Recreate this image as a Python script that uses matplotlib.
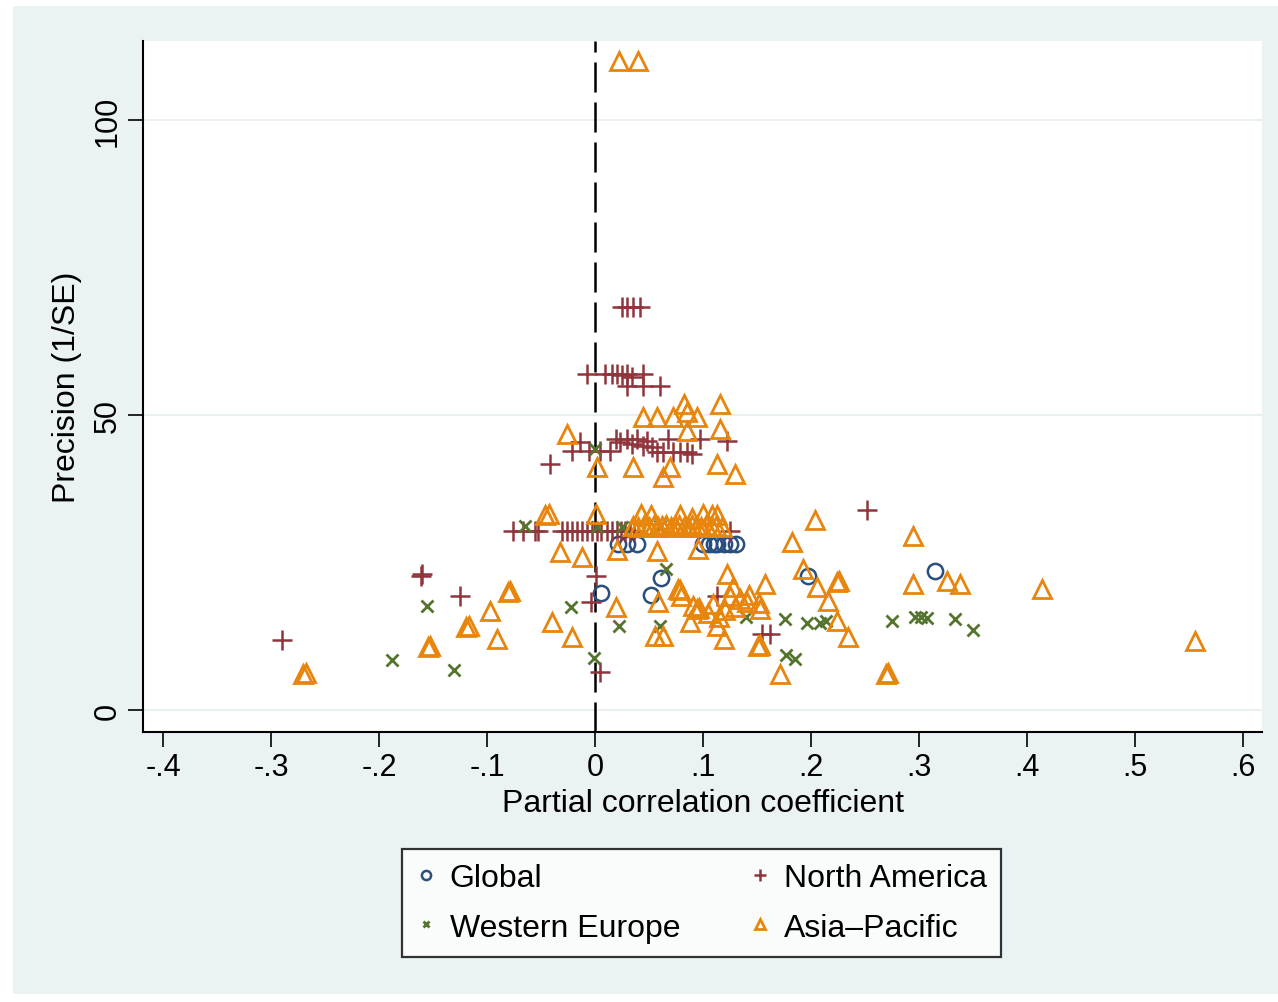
import matplotlib
matplotlib.use("Agg")
import matplotlib.pyplot as plt
from matplotlib.patches import Rectangle

plt.rcParams['font.family'] = ['Liberation Sans', 'DejaVu Sans']

# Global (hollow circles)
global_x = [0.021, 0.030, 0.039, 0.100, 0.106, 0.110, 0.113, 0.119, 0.125, 0.131,
            0.006, 0.052, 0.061, 0.197, 0.315]
global_y = [28.1, 28.1, 28.1, 28.1, 28.1, 28.1, 28.1, 28.1, 28.1, 28.1,
            19.8, 19.5, 22.4, 22.7, 23.6]

# North America (+)
na_x = [0.025, 0.030, 0.035, 0.042,
        -0.007, 0.009, 0.016, 0.020, 0.025, 0.030, 0.034, 0.044,
        0.030, 0.044, 0.060,
        -0.042, -0.021, -0.014, -0.006, 0.005, 0.014, 0.019, 0.023, 0.030, 0.034,
        0.039, 0.044, 0.048, 0.053, 0.057, 0.063, 0.068, 0.072, 0.079, 0.085,
        0.090, 0.097, 0.122,
        -0.076, -0.067, -0.056, -0.053, -0.031, -0.026, -0.021, -0.017, -0.012,
        -0.007, -0.003, 0.002, 0.006, 0.011, 0.016, 0.020, 0.024, 0.028, 0.032,
        0.036, 0.125,
        0.252, -0.161, -0.160, -0.125, -0.290, 0.001, -0.004, 0.005, 0.155, 0.162,
        0.113]
na_y = [68.3, 68.3, 68.3, 68.3,
        57.0, 57.0, 57.0, 57.0, 56.8, 57.0, 56.5, 57.0,
        54.9, 54.9, 54.9,
        41.7, 43.9, 45.4, 43.9, 43.9, 43.9, 45.9, 45.4, 45.9, 45.1,
        45.9, 44.8, 45.6, 44.6, 43.7, 43.7, 45.9, 43.7, 43.7, 43.7,
        43.4, 45.9, 45.6,
        30.3, 30.3, 30.3, 30.3, 30.3, 30.3, 30.3, 30.3, 30.3,
        30.3, 30.3, 30.3, 30.3, 30.3, 30.3, 30.3, 30.3, 30.3, 30.3,
        30.3, 30.3,
        33.9, 22.7, 23.0, 19.3, 11.9, 22.7, 18.3, 6.4, 12.9, 12.9,
        19.3]

# Western Europe (x)
we_x = [-0.188, -0.156, -0.131, -0.022, -0.001, 0.000, 0.022, 0.060, 0.066, 0.140,
        0.176, 0.196, 0.208, 0.214, 0.177, 0.185, 0.275, 0.296, 0.302, 0.307,
        0.333, 0.350, -0.065, 0.002, 0.025, 0.060]
we_y = [8.5, 17.6, 6.8, 17.5, 8.8, 44.2, 14.2, 14.2, 23.9, 15.8,
        15.4, 14.7, 14.7, 15.1, 9.3, 8.6, 15.1, 15.8, 15.8, 15.6,
        15.4, 13.6, 31.2, 31.0, 31.0, 31.2]

# Asia-Pacific (hollow triangles)
ap_x = [0.022, 0.040,
        0.044, 0.057, 0.072, 0.082, 0.085, 0.094, 0.116, -0.026, 0.085, 0.116,
        0.002, 0.035, 0.069, 0.063, 0.113, 0.130,
        -0.046, -0.043, 0.001, 0.043, 0.052, 0.079, 0.090, 0.100, 0.108, 0.113,
        0.035, 0.040, 0.045, 0.050, 0.055, 0.058, 0.062, 0.066, 0.070, 0.074,
        0.078, 0.082, 0.086, 0.090, 0.094, 0.098, 0.103, 0.108, 0.112, 0.118,
        -0.032, -0.012, 0.020, 0.057, 0.095, 0.182, 0.294, 0.204,
        -0.270, -0.268, -0.155, -0.153, -0.119, -0.117, -0.097, -0.091, -0.081,
        -0.079, -0.040, -0.021,
        0.019, 0.058, 0.056, 0.063, 0.077, 0.079, 0.080, 0.088, 0.094, 0.096,
        0.122, 0.109, 0.113, 0.119, 0.128, 0.125, 0.134, 0.141, 0.153, 0.157,
        0.151, 0.153, 0.171, 0.193, 0.206, 0.224, 0.226, 0.216, 0.224, 0.234,
        0.269, 0.271, 0.294, 0.326, 0.338, 0.414, 0.556,
        0.091, 0.105, 0.115, 0.120, 0.130, 0.143, 0.152]
ap_y = [110.0, 110.0,
        49.7, 49.7, 49.7, 51.9, 50.5, 49.7, 51.9, 46.8, 47.3, 47.6,
        41.2, 41.2, 41.2, 39.5, 41.7, 40.0,
        33.0, 33.2, 33.2, 33.3, 33.0, 33.0, 32.5, 33.3, 33.0, 33.0,
        31.2, 31.0, 31.4, 31.1, 31.3, 31.0, 31.2, 31.4, 31.0, 31.2,
        31.3, 31.1, 31.0, 31.4, 31.2, 31.0, 31.3, 31.1, 31.2, 31.0,
        26.8, 25.9, 27.2, 27.0, 27.3, 28.5, 29.5, 32.2,
        6.1, 6.3, 10.7, 10.9, 14.1, 14.3, 16.8, 12.0, 20.0,
        20.2, 14.9, 12.4,
        17.5, 18.3, 12.5, 12.5, 20.5, 20.3, 19.3, 14.9, 17.1, 17.3,
        23.0, 18.0, 14.2, 12.0, 20.8, 19.3, 18.8, 18.3, 17.1, 21.4,
        10.8, 11.0, 6.1, 23.9, 20.8, 21.7, 21.9, 18.5, 15.1, 12.4,
        6.1, 6.3, 21.4, 21.9, 21.4, 20.5, 11.7,
        17.6, 16.5, 15.8, 17.0, 17.5, 19.5, 18.2]

x_ticks = [-0.4, -0.3, -0.2, -0.1, 0, 0.1, 0.2, 0.3, 0.4, 0.5, 0.6]
x_ticklabels = ['-.4', '-.3', '-.2', '-.1', '0', '.1', '.2', '.3', '.4', '.5', '.6']
y_ticks = [0, 50, 100]

navy = '#2a4f7e'
maroon = '#90353b'
green = '#55752f'
orange = '#e8850c'

fig = plt.figure(figsize=(12.78, 10.03), dpi=100, facecolor='white')
fig.patches.append(Rectangle((0.010, 0.008), 0.99, 0.985, transform=fig.transFigure,
                             facecolor='#eaf2f3', edgecolor='none', zorder=-10))
ax = fig.add_axes([0.1119, 0.2692, 0.8756, 0.6889])
ax.set_facecolor('white')

for yv in y_ticks:
    ax.axhline(yv, color='#e6eded', lw=1.2, zorder=0)
ax.axvline(0, color='black', lw=1.8, ls=(0, (12, 4)), zorder=1)

ax.plot(global_x, global_y, ls='none', marker='o', mfc='none', mec=navy, ms=11, mew=1.8,
        label='Global', zorder=3)
ax.plot(na_x, na_y, ls='none', marker='+', color=maroon, ms=15, mew=1.8,
        label='North America', zorder=3)
ax.plot(we_x, we_y, ls='none', marker='x', color=green, ms=8, mew=2,
        label='Western Europe', zorder=3)
ax.plot(ap_x, ap_y, ls='none', marker='^', mfc='none', mec=orange, ms=13, mew=2,
        label='Asia–Pacific', zorder=4)

ax.set_xlim(-0.4185, 0.6176)
ax.set_ylim(-3.7, 113.4)
ax.set_xticks(x_ticks)
ax.set_xticklabels(x_ticklabels)
ax.set_yticks(y_ticks)
ax.set_yticklabels([str(v) for v in y_ticks], rotation=90, va='center')
ax.tick_params(axis='both', length=11, width=1.2, labelsize=22, direction='out')
for s in ['top', 'right']:
    ax.spines[s].set_visible(False)
for s in ['left', 'bottom']:
    ax.spines[s].set_linewidth(1.5)

ax.set_xlabel('Partial correlation coefficient', fontsize=23, labelpad=4)
ax.set_ylabel('Precision (1/SE)', fontsize=23, labelpad=8)

h, l = ax.get_legend_handles_labels()
order = [0, 2, 1, 3]
leg = fig.legend([h[i] for i in order], [l[i] for i in order], loc='center',
                 bbox_to_anchor=(0.549, 0.0987), ncol=2, fontsize=23, frameon=True,
                 fancybox=False, edgecolor='black', markerscale=0.6, handlelength=0.6,
                 handletextpad=0.45, columnspacing=2.2, borderpad=0.45, labelspacing=0.6)
leg.get_frame().set_linewidth(1.6)

fig.savefig('out.png', dpi=100, facecolor=fig.get_facecolor())
